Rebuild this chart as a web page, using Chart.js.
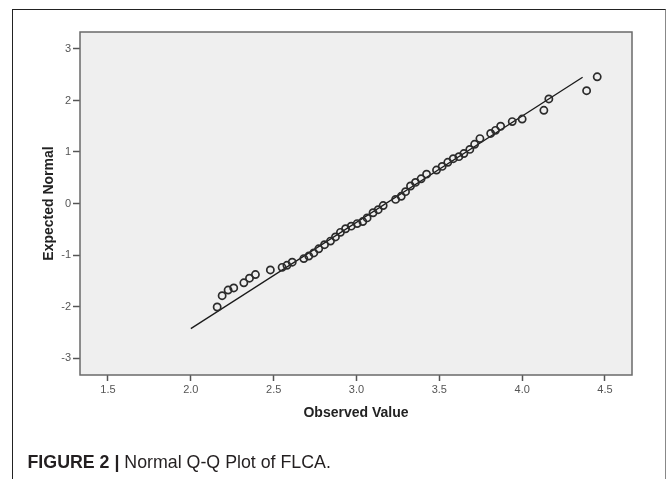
<!DOCTYPE html>
<html>
<head>
<meta charset="utf-8">
<script src="https://cdn.jsdelivr.net/npm/chart.js@4/dist/chart.umd.min.js"></script>
<style>
  html, body { margin: 0; padding: 0; background: #ffffff; }
  #wrap { position: relative; width: 668px; height: 479px; overflow: hidden; }
  #frame { position: absolute; left: 12px; top: 9px; width: 652px; height: 500px;
           border-left: 1.5px solid #222; border-top: 1.5px solid #222; border-right: 1.5px solid #888; }
  canvas { position: absolute; left: 0; top: 0; }
  #caption { position: absolute; left: 27.5px; top: 452.5px; font-family: "Liberation Sans", Arial, sans-serif;
             font-size: 17.8px; line-height: 18px; color: #231f20; white-space: nowrap; }
  #caption b { font-weight: bold; }
</style>
</head>
<body>
<div id="wrap">
  <div id="frame"></div>
  <canvas id="c" width="668" height="479"></canvas>
  <div id="caption"><b>FIGURE 2 |</b> Normal Q-Q Plot of FLCA.</div>
</div>
<script>
// Observed values (x) and expected normal values (y)
const observed = [2.159, 2.189, 2.225, 2.259, 2.32, 2.354, 2.39, 2.48, 2.551, 2.58,
  2.612, 2.682, 2.712, 2.742, 2.772, 2.807, 2.843, 2.873, 2.903, 2.934,
  2.968, 3.004, 3.038, 3.064, 3.10, 3.131, 3.161, 3.236, 3.27, 3.296,
  3.326, 3.356, 3.39, 3.423, 3.483, 3.517, 3.551, 3.584, 3.618, 3.648,
  3.684, 3.713, 3.745, 3.81, 3.839, 3.87, 3.94, 4.0, 4.131, 4.161,
  4.389, 4.453];
const expected = [-2.01, -1.79, -1.68, -1.64, -1.54, -1.45, -1.38, -1.29, -1.24, -1.20,
  -1.14, -1.07, -1.02, -0.96, -0.88, -0.80, -0.73, -0.65, -0.56, -0.49,
  -0.44, -0.39, -0.35, -0.28, -0.18, -0.12, -0.04, 0.08, 0.14, 0.23,
  0.34, 0.41, 0.48, 0.57, 0.65, 0.72, 0.80, 0.87, 0.91, 0.97,
  1.05, 1.15, 1.26, 1.36, 1.42, 1.50, 1.59, 1.64, 1.81, 2.03,
  2.19, 2.46];
// Reference line endpoints
const lineX = [2.0, 4.365];
const lineY = [-2.43, 2.45];
// Tick values
const xTicks = [1.5, 2.0, 2.5, 3.0, 3.5, 4.0, 4.5];
const yTicks = [-3, -2, -1, 0, 1, 2, 3];

const points = observed.map((x, i) => ({ x: x, y: expected[i] }));
const linePts = lineX.map((x, i) => ({ x: x, y: lineY[i] }));

const plotBg = {
  id: 'plotBg',
  beforeDatasetsDraw(chart) {
    const { ctx, chartArea: a } = chart;
    ctx.save();
    ctx.fillStyle = '#efefef';
    ctx.fillRect(a.left, a.top, a.right - a.left, a.bottom - a.top);
    ctx.restore();
  },
  afterDraw(chart) {
    const { ctx, chartArea: a } = chart;
    ctx.save();
    ctx.strokeStyle = '#6a6a6a';
    ctx.lineWidth = 1.5;
    ctx.strokeRect(a.left, a.top, a.right - a.left, a.bottom - a.top);
    ctx.restore();
  }
};

const font = "'Liberation Sans', Arial, sans-serif";

new Chart(document.getElementById('c'), {
  type: 'scatter',
  data: {
    datasets: [
      {
        data: linePts,
        showLine: true,
        borderColor: '#1a1a1a',
        borderWidth: 1.3,
        pointRadius: 0,
        fill: false,
        order: 2
      },
      {
        data: points,
        pointRadius: 3.6,
        pointBorderWidth: 1.7,
        borderColor: '#2b2b2b',
        backgroundColor: 'rgba(0,0,0,0)',
        order: 1
      }
    ]
  },
  options: {
    responsive: false,
    animation: false,
    devicePixelRatio: 1,
    layout: { padding: { left: 34, top: 32, right: 36, bottom: 53.6 } },
    plugins: { legend: { display: false }, tooltip: { enabled: false } },
    scales: {
      x: {
        type: 'linear',
        min: 1.331,
        max: 4.663,
        afterBuildTicks(s) { s.ticks = xTicks.map(v => ({ value: v })); },
        afterFit(s) { s.height = 50.4; },
        border: { display: false },
        grid: { drawOnChartArea: false, tickLength: 6, tickColor: '#555', tickWidth: 1.5 },
        ticks: {
          padding: 2,
          color: '#555',
          font: { family: font, size: 11 },
          callback: v => Number(v).toFixed(1)
        },
        title: {
          display: true,
          text: 'Observed Value',
          color: '#222',
          font: { family: font, size: 14, weight: 'bold' },
          padding: { top: 0, bottom: 4 }
        }
      },
      y: {
        type: 'linear',
        min: -3.33,
        max: 3.33,
        afterBuildTicks(s) { s.ticks = yTicks.map(v => ({ value: v })); },
        afterFit(s) { s.width = 46; },
        border: { display: false },
        grid: { drawOnChartArea: false, tickLength: 7, tickColor: '#555', tickWidth: 1.5 },
        ticks: {
          padding: 2,
          color: '#555',
          font: { family: font, size: 11 },
          callback: v => String(v)
        },
        title: {
          display: true,
          text: 'Expected Normal',
          color: '#222',
          font: { family: font, size: 14, weight: 'bold' },
          padding: { top: 6.6, bottom: 0 }
        }
      }
    }
  },
  plugins: [plotBg]
});
</script>
</body>
</html>
